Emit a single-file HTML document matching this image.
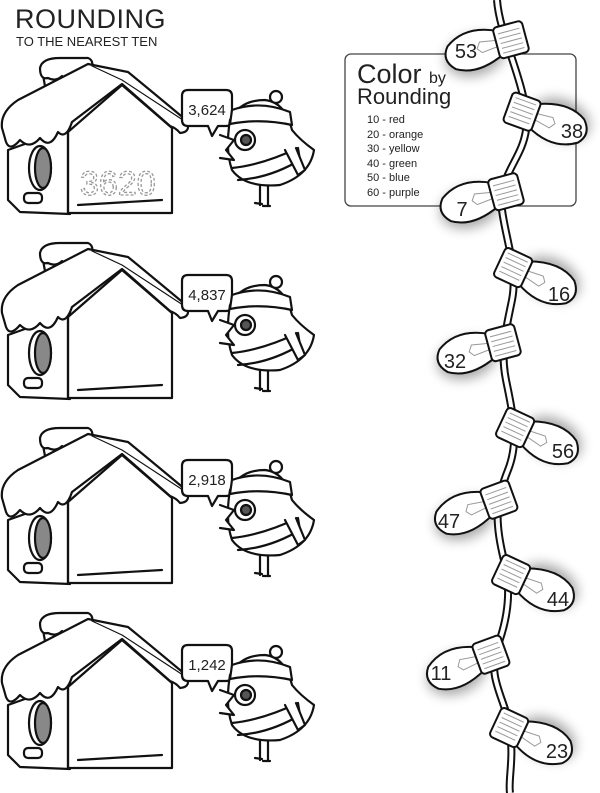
<!DOCTYPE html>
<html><head><meta charset="utf-8"><style>
html,body{margin:0;padding:0;background:#fff}
svg{display:block}
text{font-family:"Liberation Sans","DejaVu Sans",sans-serif;fill:#222}
</style></head><body>
<svg width="600" height="793" viewBox="0 0 600 793" xmlns="http://www.w3.org/2000/svg">
<defs>
<filter id="sh" x="-50%" y="-50%" width="200%" height="200%"><feGaussianBlur stdDeviation="6"/></filter>
<g id="row" fill="#fff" stroke="#111" stroke-width="2.2" stroke-linejoin="round" stroke-linecap="round">
  <!-- side wall -->
  <polygon points="8,150 70,128 70,214 20,212 8,200"/>
  <!-- front gable -->
  <polygon points="68,132 122,85 172,128 172,213 68,213"/>
  <line x1="68" y1="132" x2="68" y2="213"/>
  <!-- hole -->
  <ellipse cx="40" cy="168" rx="11" ry="22" fill="#fff"/>
  <ellipse cx="43" cy="168" rx="8" ry="20" fill="#888"/>
  <rect x="24" y="193" width="18" height="10" rx="4"/>
  <!-- chimney -->
  <polygon points="42,70 90,62 90,98 48,102"/>
  <line x1="68" y1="72" x2="68" y2="100" stroke-width="1"/>
  <path d="M40,68 Q42,58 60,58 L88,58 Q94,60 92,70 Q88,80 84,72 Q80,80 76,72 Q70,84 62,76 Q56,82 48,78 Q40,80 40,68Z"/>
  <!-- roof snow -->
  <path d="M2,128 Q0,112 18,100 L88,64 L128,72 Q150,90 186,120 Q192,132 180,133 Q176,128 170,126 L122,84 L72,122 Q66,140 58,132 Q50,150 40,138 Q30,150 20,140 Q10,152 6,142 Z"/>
  <path d="M92,66 L122,80 L186,122" fill="none" stroke-width="1.2"/>
  <line x1="78" y1="205" x2="162" y2="200"/>
  <!-- bubble -->
  <path d="M188,90 L226,90 Q232,90 232,96 L232,120 Q232,126 226,126 L218,126 L212,136 L208,126 L188,126 Q182,126 182,120 L182,96 Q182,90 188,90Z"/>
  <!-- bird -->
  <line x1="260" y1="185" x2="260" y2="205"/><line x1="268" y1="185" x2="268" y2="205"/>
  <path d="M255,203 L262,204 M263,206 L270,206" fill="none"/>
  <path d="M230,120 Q240,100 265,100 Q285,102 292,130 Q300,140 314,150 Q310,175 280,185 Q245,188 232,170 Q225,150 230,120Z"/>
  <path d="M220,135 L234,140 L226,150 L234,160 L220,158" />
  <path d="M232,110 Q260,100 290,112 L292,125 Q260,118 230,124Z"/>
  <circle cx="276" cy="97" r="6"/>
  <path d="M232,168 Q262,165 298,148 L300,160 Q270,178 238,180" fill="none"/>
  <path d="M285,150 L298,175 L305,170 L296,148" />
  <circle cx="245" cy="140" r="10"/>
  <circle cx="246" cy="140" r="5" fill="#555"/>
</g>
<g id="bulb">
  <ellipse cx="-42" cy="0" rx="30" ry="20" fill="#000" opacity="0.35" filter="url(#sh)" transform="translate(4,6)"/>
  <path d="M-10,-12 Q-40,-26 -62,-10 Q-72,2 -60,14 Q-40,26 -10,12 Z" fill="#fff" stroke="#111" stroke-width="2"/>
  <path d="M-12,-3 L-30,-6 L-34,0 L-30,5 L-12,3" fill="none" stroke="#999" stroke-width="1"/>
  <rect x="-14" y="-16" width="30" height="32" rx="4" fill="#fff" stroke="#111" stroke-width="2"/>
  <g stroke="#999" stroke-width="1"><line x1="-10" y1="-9" x2="12" y2="-9"/><line x1="-10" y1="-4" x2="12" y2="-4"/><line x1="-10" y1="1" x2="12" y2="1"/><line x1="-10" y1="6" x2="12" y2="6"/><line x1="-10" y1="11" x2="12" y2="11"/></g>
</g>
</defs>

<text x="15" y="28" font-size="27" letter-spacing="0.5">ROUNDING</text>
<text x="16" y="46" font-size="13">TO THE NEAREST TEN</text>

<use href="#row"/>
<use href="#row" transform="translate(0,185)"/>
<use href="#row" transform="translate(0,370)"/>
<use href="#row" transform="translate(0,555)"/>
<text x="207" y="115" font-size="15" text-anchor="middle">3,624</text>
<text x="207" y="300" font-size="15" text-anchor="middle">4,837</text>
<text x="207" y="485" font-size="15" text-anchor="middle">2,918</text>
<text x="207" y="670" font-size="15" text-anchor="middle">1,242</text>
<text x="80" y="195" font-size="34" fill="none" stroke="#999" stroke-width="1.3" stroke-dasharray="3,2" style="fill:none">3620</text>

<!-- legend -->
<rect x="345" y="54" width="231" height="152" rx="6" fill="#fff" stroke="#444" stroke-width="1.3"/>
<text x="357" y="83" font-size="27">Color <tspan font-size="16">by</tspan></text>
<text x="357" y="104" font-size="22">Rounding</text>
<g font-size="11">
<text x="367" y="123">10 - red</text>
<text x="367" y="138">20 - orange</text>
<text x="367" y="152">30 - yellow</text>
<text x="367" y="167">40 - green</text>
<text x="367" y="181">50 - blue</text>
<text x="367" y="196">60 - purple</text>
</g>

<!-- string -->
<path d="M497,0 C500,40 530,90 526,130 C522,160 498,175 502,210 C506,240 518,270 512,300 C506,330 500,350 506,380 C512,410 520,440 508,470 C496,500 494,520 504,560 C512,590 508,620 496,650 C488,680 506,700 510,730 C514,760 508,780 510,793" fill="none" stroke="#111" stroke-width="8"/>
<path d="M497,0 C500,40 530,90 526,130 C522,160 498,175 502,210 C506,240 518,270 512,300 C506,330 500,350 506,380 C512,410 520,440 508,470 C496,500 494,520 504,560 C512,590 508,620 496,650 C488,680 506,700 510,730 C514,760 508,780 510,793" fill="none" stroke="#fff" stroke-width="4"/>

<use href="#bulb" transform="translate(510,40) rotate(-15)"/>
<use href="#bulb" transform="translate(523,112) rotate(200)"/>
<use href="#bulb" transform="translate(505,192) rotate(-15)"/>
<use href="#bulb" transform="translate(514,268) rotate(205)"/>
<use href="#bulb" transform="translate(502,343) rotate(-15)"/>
<use href="#bulb" transform="translate(516,428) rotate(205)"/>
<use href="#bulb" transform="translate(498,500) rotate(-20)"/>
<use href="#bulb" transform="translate(512,575) rotate(205)"/>
<use href="#bulb" transform="translate(490,655) rotate(-20)"/>
<use href="#bulb" transform="translate(510,728) rotate(205)"/>
<g font-size="20" text-anchor="middle">
<text x="466" y="58">53</text>
<text x="572" y="138">38</text>
<text x="462" y="216">7</text>
<text x="559" y="301">16</text>
<text x="455" y="368">32</text>
<text x="563" y="458">56</text>
<text x="449" y="528">47</text>
<text x="558" y="606">44</text>
<text x="441" y="680">11</text>
<text x="557" y="758">23</text>
</g>
</svg>
</body></html>
